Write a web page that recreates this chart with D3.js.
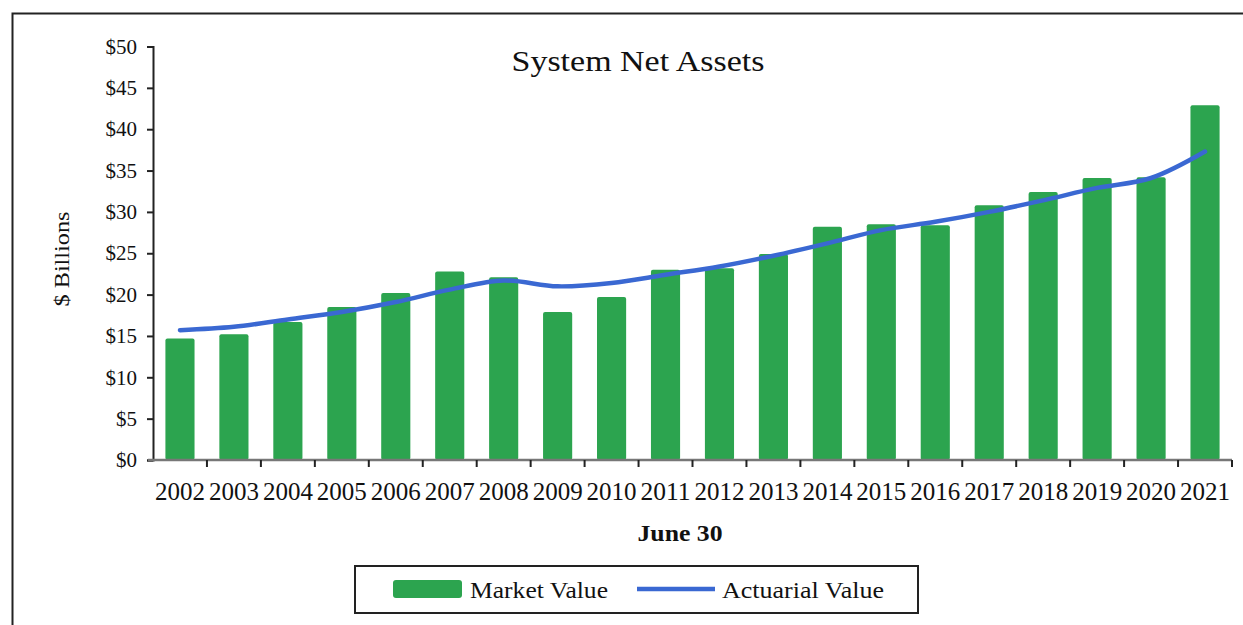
<!DOCTYPE html>
<html>
<head>
<meta charset="utf-8">
<script src="https://cdn.jsdelivr.net/npm/d3@7"></script>
<style>
    body { margin: 0; background: #fff; }
    svg { display: block; font-family: "Liberation Serif", "DejaVu Serif", serif; }
</style>
</head>
<body>
<svg id="chart" width="1243" height="625"></svg>
<script>
// data ($ billions, June 30)
let years = ['2002', '2003', '2004', '2005', '2006', '2007', '2008', '2009', '2010', '2011',
             '2012', '2013', '2014', '2015', '2016', '2017', '2018', '2019', '2020', '2021'];
let market_value = [14.7, 15.2, 16.7, 18.5, 20.2, 22.8, 22.1, 17.9, 19.7, 23.0,
                    23.2, 24.9, 28.2, 28.5, 28.4, 30.8, 32.4, 34.1, 34.2, 42.9];
let actuarial_value = [15.7, 16.1, 17.0, 17.9, 19.1, 20.6, 21.7, 21.0, 21.4, 22.4,
                       23.4, 24.7, 26.2, 27.8, 28.8, 30.0, 31.4, 32.9, 34.1, 37.3];
let y_ticks = [0, 5, 10, 15, 20, 25, 30, 35, 40, 45, 50];

let svg = d3.select('#chart');

let plot = { left: 153, right: 1232, top: 46.5, bottom: 460 };

// outer frame (top and left edges, the rest runs off the scan)
svg.append('rect')
    .attr('x', 12.5).attr('y', 13.5)
    .attr('width', 1300).attr('height', 700)
    .attr('fill', 'none')
    .attr('stroke', '#222')
    .attr('stroke-width', 2);

let x = d3.scaleBand()
    .domain(years)
    .range([plot.left, plot.right])
    .paddingInner(0.46)
    .paddingOuter(0.23);

let x_band = d3.scaleBand()
    .domain(years)
    .range([plot.left, plot.right]);

let y = d3.scaleLinear()
    .domain([0, 50])
    .range([plot.bottom, plot.top]);

// bars
svg.append('g')
    .selectAll('rect')
    .data(market_value)
    .join('rect')
    .attr('x', (d, i) => x(years[i]))
    .attr('y', d => y(d))
    .attr('width', x.bandwidth())
    .attr('height', d => y(0) - y(d))
    .attr('rx', 2)
    .attr('fill', '#2ca44f');

// smoothed actuarial line
let line = d3.line()
    .x((d, i) => x_band(years[i]) + x_band.bandwidth() / 2)
    .y(d => y(d))
    .curve(d3.curveCatmullRom.alpha(0.5));

svg.append('path')
    .datum(actuarial_value)
    .attr('d', line)
    .attr('fill', 'none')
    .attr('stroke', '#3a68d2')
    .attr('stroke-width', 4.5)
    .attr('stroke-linecap', 'round');

// y axis
let y_axis = svg.append('g')
    .attr('transform', 'translate(' + plot.left + ',0)')
    .call(d3.axisLeft(y).tickValues(y_ticks).tickSize(6).tickPadding(10).tickFormat(d => '$' + d));
y_axis.select('.domain').attr('stroke', '#222').attr('stroke-width', 2);
y_axis.selectAll('.tick line').attr('stroke', '#222').attr('stroke-width', 2);
y_axis.selectAll('text')
    .attr('font-family', '"Liberation Serif", serif')
    .attr('font-size', 21)
    .attr('fill', '#111');

// x axis, ticks between categories
let x_axis = svg.append('g')
    .attr('transform', 'translate(0,' + plot.bottom + ')');
x_axis.append('line')
    .attr('x1', plot.left - 5).attr('x2', plot.right)
    .attr('stroke', '#777')
    .attr('stroke-width', 2.5);
x_axis.selectAll('.tick')
    .data(years)
    .join('line')
    .attr('class', 'tick')
    .attr('x1', d => x_band(d) + x_band.bandwidth())
    .attr('x2', d => x_band(d) + x_band.bandwidth())
    .attr('y1', 0).attr('y2', 7)
    .attr('stroke', '#222')
    .attr('stroke-width', 2);
x_axis.selectAll('text')
    .data(years)
    .join('text')
    .attr('x', d => x_band(d) + x_band.bandwidth() / 2)
    .attr('y', 40)
    .attr('text-anchor', 'middle')
    .attr('font-size', 25)
    .attr('textLength', 50)
    .attr('lengthAdjust', 'spacingAndGlyphs')
    .attr('fill', '#111')
    .text(d => d);

// title and axis titles
svg.append('text')
    .attr('x', 638).attr('y', 71)
    .attr('text-anchor', 'middle')
    .attr('font-size', 30)
    .attr('textLength', 253)
    .attr('lengthAdjust', 'spacingAndGlyphs')
    .attr('fill', '#111')
    .text('System Net Assets');

svg.append('text')
    .attr('transform', 'translate(69,259) rotate(-90)')
    .attr('text-anchor', 'middle')
    .attr('font-size', 22)
    .attr('textLength', 95)
    .attr('lengthAdjust', 'spacingAndGlyphs')
    .attr('fill', '#111')
    .text('$ Billions');

svg.append('text')
    .attr('x', 680).attr('y', 541)
    .attr('text-anchor', 'middle')
    .attr('font-size', 23)
    .attr('font-weight', 'bold')
    .attr('textLength', 85)
    .attr('lengthAdjust', 'spacingAndGlyphs')
    .attr('fill', '#111')
    .text('June 30');

// legend
let legend = svg.append('g');
legend.append('rect')
    .attr('x', 355).attr('y', 566)
    .attr('width', 563).attr('height', 47)
    .attr('fill', '#fff')
    .attr('stroke', '#222')
    .attr('stroke-width', 2);
legend.append('rect')
    .attr('x', 393).attr('y', 580)
    .attr('width', 69).attr('height', 18)
    .attr('rx', 3)
    .attr('fill', '#2ca44f');
legend.append('text')
    .attr('x', 470).attr('y', 598)
    .attr('font-size', 23)
    .attr('textLength', 138)
    .attr('lengthAdjust', 'spacingAndGlyphs')
    .attr('fill', '#111')
    .text('Market Value');
legend.append('line')
    .attr('x1', 637).attr('x2', 715)
    .attr('y1', 589).attr('y2', 589)
    .attr('stroke', '#3a68d2')
    .attr('stroke-width', 4.5);
legend.append('text')
    .attr('x', 722).attr('y', 598)
    .attr('font-size', 23)
    .attr('textLength', 162)
    .attr('lengthAdjust', 'spacingAndGlyphs')
    .attr('fill', '#111')
    .text('Actuarial Value');
</script>
</body>
</html>
